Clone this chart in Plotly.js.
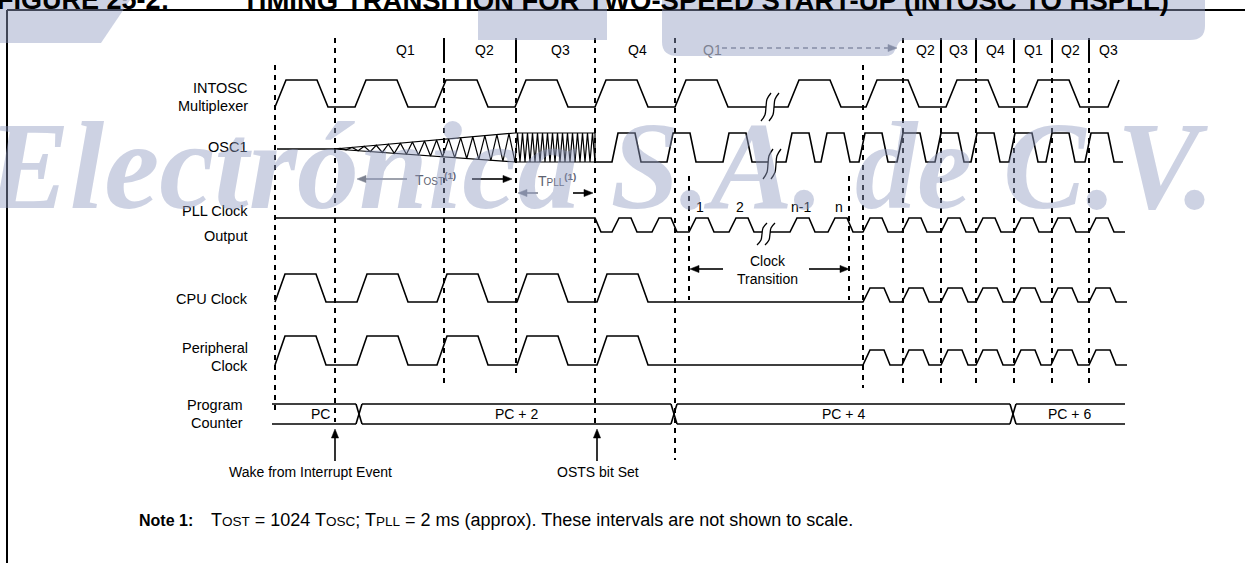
<!DOCTYPE html>
<html><head><meta charset="utf-8">
<script src="https://cdn.plot.ly/plotly-3.0.1.min.js"></script>
<style>html,body{margin:0;padding:0;background:#fff;overflow:hidden}#chart{width:1245px;height:563px}</style>
</head><body><div id="chart"></div>
<script>
// ===== DATA (time positions, in diagram time units) =====
const rowLabels = ['INTOSC', 'Multiplexer', 'OSC1', 'PLL Clock', 'Output', 'CPU Clock', 'Peripheral', 'Clock', 'Program', 'Counter'];
const qBoundaries = [275, 335, 444, 516, 595, 675, 863, 903, 941, 976, 1014, 1052, 1089];
const qLabels = ['Q1', 'Q2', 'Q3', 'Q4', 'Q1', 'Q2', 'Q3', 'Q4', 'Q1', 'Q2', 'Q3'];
const qLabelTimes = [405, 484, 560, 637, 712, 925, 958, 995, 1033, 1070, 1108];
const intoscRises = [275, 355, 435, 515, 595, 675, 788, 866, 946, 1027, 1108];
const osc1StartupCycles = 15;      // growing oscillation during TOST
const osc1StableCycles = 16;       // dense oscillation during TPLL
const osc1Events = [334, 515, 595]; // start-up begins, OST ends, PLL lock
const osc1Rises = [612, 667, 723, 786, 821, 859, 897, 935, 971, 1009, 1046, 1085];
const pllOutputStart = 595;
const pllRises = [612, 652, 689, 729, 790, 828, 863, 902, 941, 976, 1014, 1051, 1089];
const pllCountLabels = ['1', '2', 'n-1', 'n'];
const pllCountPulseIndex = [2, 3, 4, 5];
const cpuSlowRises = [275, 357, 437, 517, 597];
const cpuFastRises = [863, 902, 941, 976, 1014, 1051, 1089];
const periphSlowRises = [275, 357, 437, 517, 597];
const periphFastRises = [863, 902, 941, 976, 1014, 1051, 1089];
const pcLabels = ['PC', 'PC + 2', 'PC + 4', 'PC + 6'];
const pcChanges = [359, 674, 1013];
const pcSpan = [272, 1125];
const breakTime = 770;
const tostInterval = [357, 512];
const tpllInterval = [518, 593];
const clockTransition = [689, 849];
const wakeEvent = 335;
const ostsEvent = 597;

// ===== LAYOUT / STYLE =====
const W = 1245, H = 563;
const ROW = {
  intosc: {hi: 80, lo: 107},
  osc1: {mid: 149, hi: 133, lo: 162},
  pll: {hi: 218, lo: 232},
  cpu: {hi: 274, lo: 302, fastHi: 288},
  per: {hi: 336, lo: 365, fastHi: 350},
  pc: {top: 404, bot: 424}
};
const SH_SLOW = {rise: 11, high: 31, fall: 11};
const SH_CPU = {rise: 10, high: 31, fall: 10};
const SH_FAST = {rise: 7, high: 14, fall: 6};
const SH_OSC = {rise: 6, high: 17, fall: 6};
const SH_PLL = {rise: 7, high: 12, fall: 6};
const FONT = 'Liberation Sans, Arial, sans-serif';
const WM = 'rgba(144,155,192,0.45)';
const GREY = '#7d8291';

function pulses(rises, sh, hi, lo) {
  const p = [];
  rises.forEach(r => {
    p.push([r, lo], [r + sh.rise, hi], [r + sh.rise + sh.high, hi], [r + sh.rise + sh.high + sh.fall, lo]);
  });
  return p;
}
function clip(pts, a, b) {
  const out = [];
  for (let i = 0; i < pts.length - 1; i++) {
    const [x0, y0] = pts[i], [x1, y1] = pts[i + 1];
    const l = Math.max(a, x0), h = Math.min(b, x1);
    if (h < l) continue;
    if (x1 === x0) { out.push([x0, y0], [x1, y1]); continue; }
    const f = x => y0 + (y1 - y0) * (x - x0) / (x1 - x0);
    if (!out.length || out[out.length - 1][0] !== l) out.push([l, f(l)]);
    out.push([h, f(h)]);
  }
  return out;
}
function gap(pts, g0, g1) { return clip(pts, -1e9, g0).concat([[null, null]], clip(pts, g1, 1e9)); }
function line(pts, w, color, extra) {
  return Object.assign({type: 'scatter', mode: 'lines', x: pts.map(p => p[0]), y: pts.map(p => p[1]),
    line: {color: color || '#000', width: w || 1.6}, hoverinfo: 'skip', showlegend: false}, extra || {});
}
const G0 = breakTime - 4, G1 = breakTime + 4;
const traces = [];

// INTOSC
let p = pulses(intoscRises, SH_SLOW, ROW.intosc.hi, ROW.intosc.lo);
p = clip(p, 275, intoscRises[intoscRises.length - 1] + SH_SLOW.rise);
traces.push(line(gap(p, G0, G1)));

// OSC1
const [oStart, oOst, oLock] = osc1Events;
traces.push(line([[277, ROW.osc1.mid], [oStart, ROW.osc1.mid]]));
const up = x => ROW.osc1.mid - (ROW.osc1.mid - ROW.osc1.hi) * (x - oStart) / (oOst - oStart);
const dn = x => ROW.osc1.mid + (ROW.osc1.lo - ROW.osc1.mid) * (x - oStart) / (oOst - oStart);
let z = [];
for (let k = 0; k <= osc1StartupCycles * 2; k++) {
  const x = oStart + (oOst - oStart) * k / (osc1StartupCycles * 2);
  z.push([x, k % 2 ? up(x) : dn(x)]);
}
traces.push(line(z, 1.2));
z = [];
for (let k = 0; k <= osc1StableCycles * 2; k++) {
  const x = oOst + (oLock - oOst) * k / (osc1StableCycles * 2);
  z.push([x, k % 2 ? ROW.osc1.hi : ROW.osc1.lo]);
}
traces.push(line(z, 1.2));
traces.push(line([[oStart, ROW.osc1.mid], [oOst, ROW.osc1.hi], [oLock, ROW.osc1.hi], [oLock, ROW.osc1.lo], [oOst, ROW.osc1.lo], [oStart, ROW.osc1.mid]], 1.2));
p = [[oLock, ROW.osc1.lo]].concat(pulses(osc1Rises, SH_OSC, ROW.osc1.hi, ROW.osc1.lo), [[1123, ROW.osc1.lo]]);
traces.push(line(gap(p, G0 + 2, G1 + 2)));

// PLL clock output
p = [[275, ROW.pll.hi], [pllOutputStart, ROW.pll.hi], [pllOutputStart + 6, ROW.pll.lo]]
  .concat(pulses(pllRises, SH_PLL, ROW.pll.hi, ROW.pll.lo), [[1125, ROW.pll.lo]]);
traces.push(line(gap(p, G0 - 4, G1 - 4)));

// CPU clock
p = pulses(cpuSlowRises, SH_CPU, ROW.cpu.hi, ROW.cpu.lo)
  .concat(pulses(cpuFastRises, SH_FAST, ROW.cpu.fastHi, ROW.cpu.lo), [[1127, ROW.cpu.lo]]);
traces.push(line(p));
// Peripheral clock
p = pulses(periphSlowRises, SH_CPU, ROW.per.hi, ROW.per.lo)
  .concat(pulses(periphFastRises, SH_FAST, ROW.per.fastHi, ROW.per.lo), [[1127, ROW.per.lo]]);
traces.push(line(p));

// Program counter bus
const edges = [pcSpan[0]].concat(pcChanges, [pcSpan[1]]);
const bus = [];
for (let i = 0; i < edges.length - 1; i++) {
  const a = i === 0 ? edges[i] : edges[i] + 3, b = i === edges.length - 2 ? edges[i + 1] : edges[i + 1] - 3;
  bus.push([a, ROW.pc.top], [b, ROW.pc.top], [null, null], [a, ROW.pc.bot], [b, ROW.pc.bot], [null, null]);
}
pcChanges.forEach(c => {
  bus.push([c - 3, ROW.pc.top], [c + 3, ROW.pc.bot], [null, null], [c - 3, ROW.pc.bot], [c + 3, ROW.pc.top], [null, null]);
});
traces.push(line(bus, 1.6));

// break symbols
function brk(cx, cy, h) {
  const out = [];
  [-4, 4].forEach(d => {
    const x = cx + d;
    out.push(line([[x + 5, cy - h], [x + 1, cy - h * 0.55], [x, cy], [x - 1, cy + h * 0.55], [x - 5, cy + h]], 1.3, '#000', {line: {color: '#000', width: 1.3, shape: 'spline'}}));
  });
  return out;
}
traces.push(...brk(breakTime, ROW.intosc.lo, 14), ...brk(breakTime + 2, ROW.osc1.lo + 2, 15), ...brk(breakTime - 4, ROW.pll.lo + 2, 11));

// dashed time lines
const extents = {275: [65, 413], 335: [38, 422], 444: [58, 388], 516: [58, 378], 595: [38, 428], 675: [38, 460],
  863: [65, 388], 903: [38, 388], 941: [58, 388], 976: [58, 388], 1014: [58, 388], 1052: [58, 388], 1089: [58, 388]};
const dl = [];
qBoundaries.forEach(t => { dl.push([t, extents[t][0]], [t, extents[t][1]], [null, null]); });
clockTransition.forEach(t => { dl.push([t, 176], [t, 300], [null, null]); });
traces.unshift(line(dl, 2, '#000', {line: {color: '#000', width: 2, dash: '5px,5px'}}));
const sol = [];
[444, 516, 941, 976, 1014, 1052, 1089].forEach(t => sol.push([t, 38], [t, 60], [null, null]));
traces.push(line(sol, 2));

// ===== annotations & arrows =====
const ann = [];
const shapes = [];
function txt(x, y, t, o) {
  ann.push(Object.assign({x: x, y: y, xref: 'x', yref: 'y', text: t, showarrow: false,
    font: {family: FONT, size: 14, color: '#000'}, xanchor: 'center', yanchor: 'middle'}, o || {}));
}
function arrow(x, y, ax, ay, col, dash) {
  col = col || '#000';
  const dx = x - ax, dy = y - ay, L = Math.hypot(dx, dy), ux = dx / L, uy = dy / L;
  const hl = 9, hw = 3.6;
  const bx = x - ux * hl, by = y - uy * hl;
  shapes.push({type: 'line', xref: 'x', yref: 'y', x0: ax, y0: ay, x1: bx, y1: by, line: {color: col, width: 1.6, dash: dash || 'solid'}});
  shapes.push({type: 'path', xref: 'x', yref: 'y', fillcolor: col, line: {color: col, width: 0.5},
    path: `M${x},${y} L${bx - uy * hw},${by + ux * hw} L${bx + uy * hw},${by - ux * hw} Z`});
}
const labY = [88, 106, 147, 211, 236, 299, 348, 366, 405, 423];
rowLabels.forEach((l, i) => txt(i >= 8 ? 245 : 250, labY[i], l, {xanchor: 'right', font: {family: FONT, size: 14.5, color: '#000'}}));
qLabels.forEach((q, i) => txt(qLabelTimes[i], 50, q, {font: {family: FONT, size: 14, color: i === 4 ? GREY : '#000'}}));
pcLabels.forEach((l, i) => txt((edges[i] + edges[i + 1]) / 2 + (i === 0 ? 5 : 0), 414, l));
pllCountLabels.forEach((l, i) => txt(pllRises[pllCountPulseIndex[i]] + 11, 207, l));
// TOST / TPLL
txt((tostInterval[0] + tostInterval[1]) / 2 + 1, 179, 'T<span style="font-size:10px">OST</span><sup><b>(1)</b></sup>', {font: {family: FONT, size: 14, color: '#5e6270'}});
arrow(tostInterval[0], 179, tostInterval[0] + 50, 179, GREY);
arrow(tostInterval[1], 179, tostInterval[1] - 40, 179);
txt((tpllInterval[0] + tpllInterval[1]) / 2 + 1, 180, 'T<span style="font-size:10px">PLL</span><sup><b>(1)</b></sup>', {font: {family: FONT, size: 14, color: '#5e6270'}});
arrow(tpllInterval[0], 193, tpllInterval[0] + 20, 193, GREY);
arrow(tpllInterval[1], 193, tpllInterval[1] - 20, 193);
// clock transition
txt((clockTransition[0] + clockTransition[1]) / 2 - 2, 270, 'Clock<br>Transition');
arrow(clockTransition[0] + 1, 269, clockTransition[0] + 34, 269);
arrow(clockTransition[1], 269, clockTransition[1] - 40, 269);
// Q1 continuation arrow
arrow(897, 48, 722, 48, GREY, '5px,4px');
// events
arrow(wakeEvent, 429, wakeEvent, 461);
arrow(ostsEvent, 429, ostsEvent, 461);
txt(310, 472, 'Wake from Interrupt Event');
txt(598, 472, 'OSTS bit Set');
// note
txt(137, 520, '<b>Note 1:</b>', {xanchor: 'left', font: {family: FONT, size: 16, color: '#000'}});
txt(209, 520, 'T<span style="font-size:13.5px">OST</span> = 1024 T<span style="font-size:13.5px">OSC</span>; T<span style="font-size:13.5px">PLL</span> = 2 ms (approx). These intervals are not shown to scale.', {xanchor: 'left', font: {family: FONT, size: 18, color: '#000'}});
// cut-off figure title (paper coords so it may sit above the top edge)
const py = v => 1 - v / H;
ann.push({x: 172, xref: 'x', y: py(0.5), yref: 'paper', text: '<b>FIGURE 25-2:</b>', showarrow: false, xanchor: 'right', yanchor: 'middle', font: {family: FONT, size: 27, color: '#000'}});
ann.push({x: 240, xref: 'x', y: py(0.5), yref: 'paper', text: '<b>TIMING TRANSITION FOR TWO-SPEED START-UP (INTOSC TO HSPLL)</b>', showarrow: false, xanchor: 'left', yanchor: 'middle', font: {family: FONT, size: 27.5, color: '#000'}});
// watermark
txt(600, 166, 'Electrónica S.A. de C.V.', {font: {family: 'Liberation Serif, serif', size: 124, color: WM, weight: 'bold', style: 'italic'}});

// ===== frame & watermark blobs =====
shapes.unshift(
  {type: 'line', x0: 7, x1: W, y0: 10, y1: 10, xref: 'x', yref: 'y', line: {color: '#000', width: 2}},
  {type: 'line', x0: 7, x1: 7, y0: 10, y1: H, xref: 'x', yref: 'y', line: {color: '#000', width: 2}}
);
shapes.push(
  {type: 'path', path: 'M0,0 L130,0 L101,43 L0,43 Z', xref: 'x', yref: 'y', fillcolor: WM, line: {width: 0}, layer: 'above'},
  {type: 'rect', x0: 478, x1: 607, y0: 0, y1: 40, xref: 'x', yref: 'y', fillcolor: WM, line: {width: 0}, layer: 'above'},
  {type: 'path', path: 'M662,0 L1205,0 L1205,26 Q1205,40 1190,40 L905,40 Q900,40 898,44 L895,50 Q893,56 885,56 L678,56 Q662,56 662,42 Z', xref: 'x', yref: 'y', fillcolor: WM, line: {width: 0}, layer: 'above'}
);

Plotly.newPlot('chart', traces, {
  width: W, height: H, margin: {l: 0, r: 0, t: 0, b: 0},
  paper_bgcolor: '#fff', plot_bgcolor: '#fff', showlegend: false,
  xaxis: {range: [0, W], visible: false, fixedrange: true},
  yaxis: {range: [H, 0], visible: false, fixedrange: true},
  shapes: shapes, annotations: ann
}, {staticPlot: true, displayModeBar: false});
</script></body></html>
